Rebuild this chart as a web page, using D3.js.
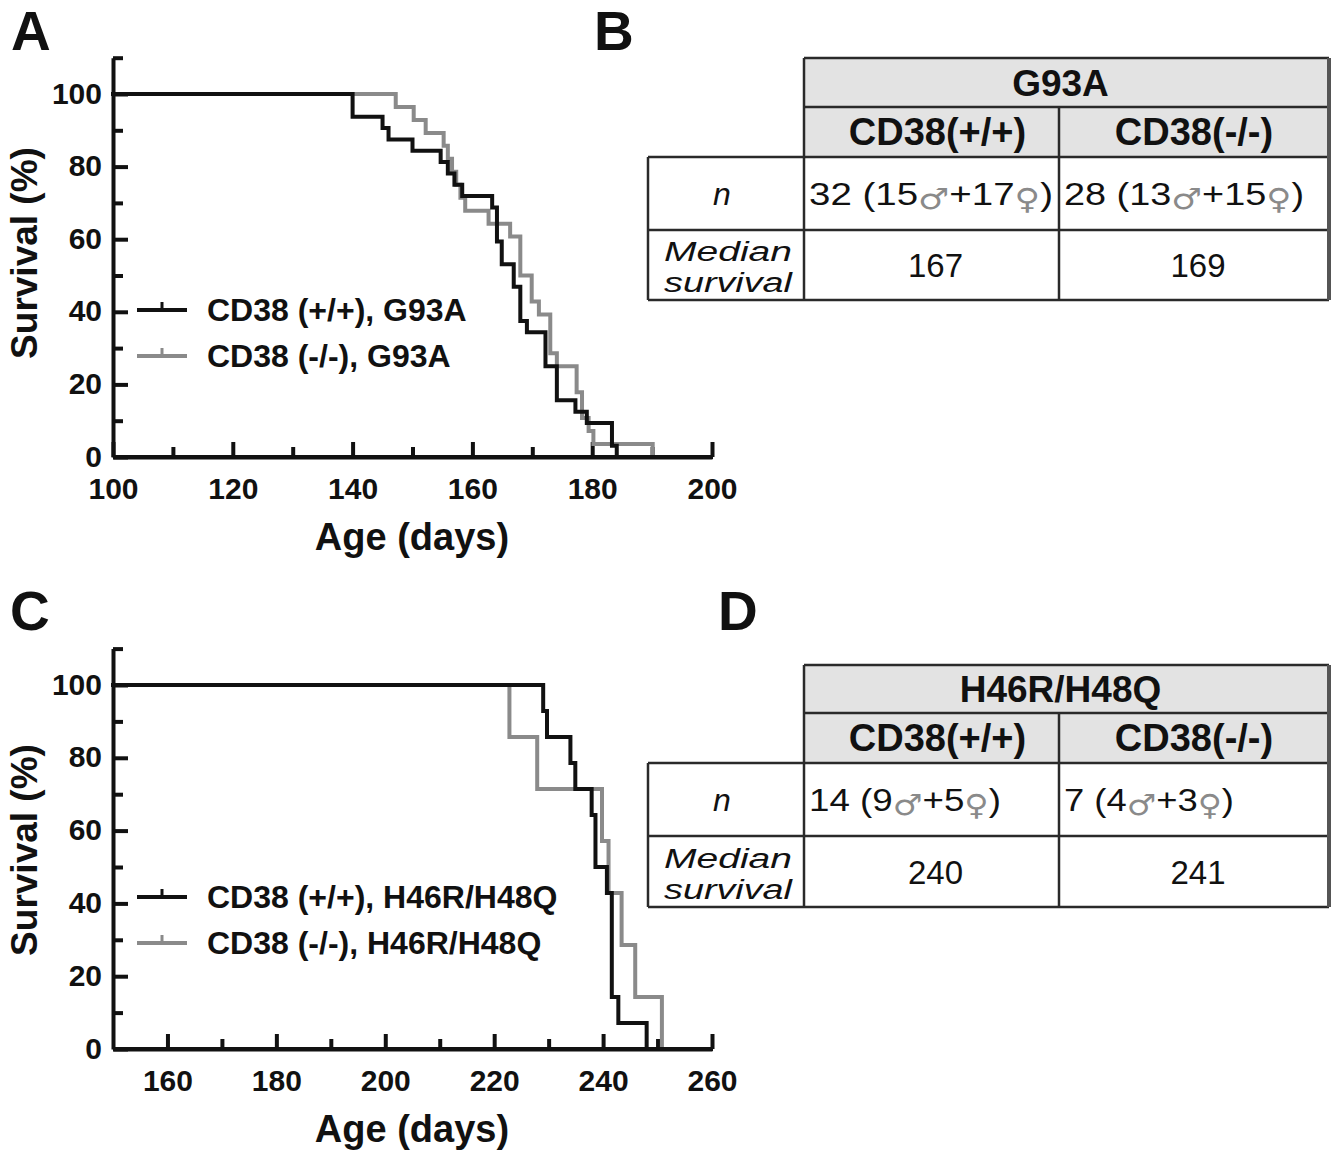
<!DOCTYPE html>
<html>
<head>
<meta charset="utf-8">
<script src="https://cdn.jsdelivr.net/npm/d3@7/dist/d3.min.js"></script>
<style>
  html, body { margin: 0; padding: 0; background: #fff; }
  svg text { font-family: "Liberation Sans", Arial, Helvetica, sans-serif; }
</style>
</head>
<body>
<svg id="fig" width="1334" height="1155"></svg>
<script>
// ---------------- DATA ----------------
// Panel A: G93A Kaplan-Meier steps (day of drop, survival % after drop)
const aDaysWT  = [100, 140, 145, 146, 150, 154.7, 155.9, 157.0, 158.3, 163.3, 164.1, 164.9, 166.9, 168.0, 169.1, 172.2, 174.1, 177.2, 179.1, 183.3, 184.1];
const aSurvWT  = [100, 93.75, 90.63, 87.5, 84.38, 81.25, 78.13, 75.0, 71.88, 68.75, 59.38, 53.13, 46.88, 37.5, 34.38, 25.0, 15.63, 12.5, 9.38, 3.13, 0];
const aDaysKO  = [100, 147.2, 150.2, 152.2, 155.2, 155.9, 156.6, 157.3, 158.0, 158.8, 162.7, 166.3, 168.0, 169.9, 171.1, 173.0, 174.1, 177.4, 178.3, 179.4, 180.2, 190.1];
const aSurvKO  = [100, 96.43, 92.86, 89.29, 85.71, 82.14, 78.57, 75.0, 71.43, 67.86, 64.29, 60.71, 50.0, 42.86, 39.29, 28.57, 25.0, 17.86, 10.71, 7.14, 3.57, 0];
// Panel C: H46R/H48Q
const cDaysWT  = [150, 229.0, 229.7, 234.0, 234.9, 237.9, 238.6, 240.7, 241.6, 242.8, 248.0];
const cSurvWT  = [100, 92.86, 85.71, 78.57, 71.43, 64.29, 50.0, 42.86, 14.29, 7.14, 0];
const cDaysKO  = [150, 222.8, 227.9, 239.8, 241.0, 243.4, 245.9, 250.8];
const cSurvKO  = [100, 85.71, 71.43, 57.14, 42.86, 28.57, 14.29, 0];

const yTicks      = [0, 20, 40, 60, 80, 100];
const yMinorTicks = [10, 30, 50, 70, 90, 110];
const aXTicks      = [100, 120, 140, 160, 180, 200];
const aXMinorTicks = [110, 130, 150, 170, 190];
const cXTicks      = [160, 180, 200, 220, 240, 260];
const cXMinorTicks = [170, 190, 210, 230, 250];

const legendA = ["CD38 (+/+), G93A", "CD38 (-/-), G93A"];
const legendC = ["CD38 (+/+), H46R/H48Q", "CD38 (-/-), H46R/H48Q"];
const yTitle = "Survival (%)";
const xTitle = "Age (days)";

const genotypes   = ["CD38(+/+)", "CD38(-/-)"];
const tableBTitle = "G93A";
const tableBTotal = [32, 28];
const tableBMale  = [15, 13];
const tableBFem   = [17, 15];
const tableBMed   = [167, 169];
const tableDTitle = "H46R/H48Q";
const tableDTotal = [14, 7];
const tableDMale  = [9, 4];
const tableDFem   = [5, 3];
const tableDMed   = [240, 241];

// ---------------- DRAW ----------------
const svg = d3.select("#fig");
const BLACK = "#111", GRAY = "#8a8a8a";

function panelLetter(t, x, y) {
  svg.append("text").attr("x", x).attr("y", y).text(t)
    .attr("font-size", 55).attr("font-weight", "bold").attr("fill", BLACK);
}
panelLetter("A", 11, 50);
panelLetter("B", 594, 50);
panelLetter("C", 10, 630);
panelLetter("D", 718, 630);

function kmPanel(opt) {
  const g = svg.append("g");
  const x = d3.scaleLinear().domain(opt.xDomain).range([113, 712]);
  const y = d3.scaleLinear().domain([0, 110]).range([opt.y0, opt.y0 - 110 * opt.pxPerPct]);

  // minor ticks
  g.append("g").attr("transform", `translate(0,${opt.y0})`)
    .call(d3.axisBottom(x).tickValues(opt.xMinor).tickSizeInner(-10).tickSizeOuter(0).tickFormat(""))
    .call(s => s.select(".domain").remove());
  g.append("g").attr("transform", `translate(113,0)`)
    .call(d3.axisLeft(y).tickValues(yMinorTicks).tickSizeInner(-10).tickSizeOuter(0).tickFormat(""))
    .call(s => s.select(".domain").remove());
  // major
  const xa = g.append("g").attr("transform", `translate(0,${opt.y0})`)
    .call(d3.axisBottom(x).tickValues(opt.xTicks).tickSizeInner(-15).tickSizeOuter(0).tickPadding(40).tickFormat(d3.format("d")));
  const ya = g.append("g").attr("transform", `translate(113,0)`)
    .call(d3.axisLeft(y).tickValues(yTicks).tickSizeInner(-15).tickSizeOuter(0).tickPadding(11).tickFormat(d3.format("d")));
  g.selectAll(".tick line").attr("stroke", BLACK).attr("stroke-width", 4);
  g.selectAll(".domain").attr("stroke", BLACK).attr("stroke-width", 4);
  g.selectAll(".tick text").attr("font-size", 30).attr("font-weight", "bold").attr("fill", BLACK)
    .attr("font-family", '"Liberation Sans", Arial, sans-serif');
  xa.selectAll(".tick text").attr("dy", 0).attr("y", 42);
  ya.selectAll(".tick text").attr("dy", "0.3em");

  const line = d3.line().x(d => x(d[0])).y(d => y(d[1])).curve(d3.curveStepAfter);
  const series = [
    { days: opt.koDays, surv: opt.koSurv, color: GRAY },
    { days: opt.wtDays, surv: opt.wtSurv, color: BLACK }
  ];
  series.forEach(s => {
    const pts = s.days.map((d, i) => [d, s.surv[i]]);
    g.append("path").attr("d", line(pts)).attr("fill", "none")
      .attr("stroke", s.color).attr("stroke-width", 4).attr("stroke-linejoin", "miter").attr("stroke-linecap", "square");
  });
  // redraw axis line over curve ends
  g.append("line").attr("x1", 113).attr("x2", 713).attr("y1", opt.y0).attr("y2", opt.y0)
    .attr("stroke", BLACK).attr("stroke-width", 4);

  // legend
  opt.legend.forEach((t, i) => {
    const ly = opt.legY + i * 46;
    const col = i === 0 ? BLACK : GRAY;
    g.append("line").attr("x1", 137).attr("x2", 187).attr("y1", ly).attr("y2", ly)
      .attr("stroke", col).attr("stroke-width", 4);
    g.append("line").attr("x1", 162).attr("x2", 162).attr("y1", ly - 8).attr("y2", ly)
      .attr("stroke", col).attr("stroke-width", 3);
    g.append("text").attr("x", 207).attr("y", ly + 11).text(t)
      .attr("font-size", 32).attr("font-weight", "bold").attr("fill", BLACK);
  });

  // titles
  g.append("text").attr("transform", `translate(37,${opt.yTitleY}) rotate(-90)`)
    .attr("text-anchor", "middle").text(yTitle)
    .attr("font-size", 37).attr("font-weight", "bold").attr("fill", BLACK);
  g.append("text").attr("x", 412).attr("y", opt.xTitleY).attr("text-anchor", "middle").text(xTitle)
    .attr("font-size", 38).attr("font-weight", "bold").attr("fill", BLACK);
}

kmPanel({ xDomain: [100, 200], y0: 457, pxPerPct: 3.63, xTicks: aXTicks, xMinor: aXMinorTicks,
  wtDays: aDaysWT, wtSurv: aSurvWT, koDays: aDaysKO, koSurv: aSurvKO,
  legend: legendA, legY: 310, yTitleY: 253, xTitleY: 550 });
kmPanel({ xDomain: [150, 260], y0: 1049, pxPerPct: 3.64, xTicks: cXTicks, xMinor: cXMinorTicks,
  wtDays: cDaysWT, wtSurv: cSurvWT, koDays: cDaysKO, koSurv: cSurvKO,
  legend: legendC, legY: 897, yTitleY: 850, xTitleY: 1142 });

function table(opt) {
  const g = svg.append("g");
  const xs = [648, 804, 1059, 1329];
  const ys = opt.rows; // 5 y positions
  const STROKE = "#2a2a2a";
  // header fill
  g.append("rect").attr("x", xs[1]).attr("y", ys[0]).attr("width", xs[3] - xs[1]).attr("height", ys[2] - ys[0])
    .attr("fill", "#e3e3e3");
  const hl = (x1, x2, y) => g.append("line").attr("x1", x1).attr("x2", x2).attr("y1", y).attr("y2", y)
    .attr("stroke", STROKE).attr("stroke-width", 2.5);
  const vl = (x, y1, y2) => g.append("line").attr("x1", x).attr("x2", x).attr("y1", y1).attr("y2", y2)
    .attr("stroke", STROKE).attr("stroke-width", 2.5);
  hl(xs[1], xs[3], ys[0]);
  hl(xs[1], xs[3], ys[1]);
  hl(xs[0], xs[3], ys[2]);
  hl(xs[0], xs[3], ys[3]);
  hl(xs[0], xs[3], ys[4]);
  vl(xs[0], ys[2], ys[4]);
  vl(xs[1], ys[0], ys[4]);
  vl(xs[2], ys[1], ys[4]);
  g.append("line").attr("x1", xs[3]).attr("x2", xs[3]).attr("y1", ys[0]).attr("y2", ys[4])
    .attr("stroke", "#555").attr("stroke-width", 4);

  const cx = [(xs[1] + xs[2]) / 2, (xs[2] + xs[3]) / 2];
  g.append("text").attr("x", (xs[1] + xs[3]) / 2 - 6).attr("y", (ys[0] + ys[1]) / 2 + 13)
    .attr("text-anchor", "middle").text(opt.title)
    .attr("font-size", 37).attr("font-weight", "bold").attr("fill", BLACK);
  genotypes.forEach((t, i) => {
    g.append("text").attr("x", cx[i] + (i === 0 ? 6 : 0)).attr("y", (ys[1] + ys[2]) / 2 + 13)
      .attr("text-anchor", "middle").text(t)
      .attr("font-size", 38).attr("font-weight", "bold").attr("fill", BLACK);
  });
  // n row
  const nY = (ys[2] + ys[3]) / 2 + 11;
  g.append("text").attr("x", (xs[0] + xs[1]) / 2 - 4).attr("y", nY).attr("text-anchor", "middle")
    .text("n").attr("font-size", 32).attr("font-style", "italic").attr("fill", BLACK);
  [0, 1].forEach(i => {
    const t = g.append("text").attr("x", xs[i + 1] + 5).attr("y", nY)
      .attr("font-size", 32).attr("fill", BLACK)
      .attr("textLength", opt.nLen[i]).attr("lengthAdjust", "spacingAndGlyphs");
    t.append("tspan").text(`${opt.total[i]} (${opt.male[i]}`);
    t.append("tspan").text("\u2642").attr("fill", "#8a8a8a").attr("font-size", 29).attr("dy", 4)
      .attr("font-family", '"DejaVu Sans", sans-serif');
    t.append("tspan").text(`+${opt.fem[i]}`).attr("dy", -4);
    t.append("tspan").text("\u2640").attr("fill", "#8a8a8a").attr("font-size", 29).attr("dy", 4)
      .attr("font-family", '"DejaVu Sans", sans-serif');
    t.append("tspan").text(")").attr("dy", -4);
  });
  // median row
  const mMid = (ys[3] + ys[4]) / 2;
  const mx = (xs[0] + xs[1]) / 2 + 2;
  g.append("text").attr("x", mx).attr("y", mMid - 4).attr("text-anchor", "middle")
    .attr("font-size", 27).attr("font-style", "italic").attr("fill", BLACK)
    .attr("textLength", 128).attr("lengthAdjust", "spacingAndGlyphs").text("Median");
  g.append("text").attr("x", mx).attr("y", mMid + 27).attr("text-anchor", "middle")
    .attr("font-size", 27).attr("font-style", "italic").attr("fill", BLACK)
    .attr("textLength", 128).attr("lengthAdjust", "spacingAndGlyphs").text("survival");
  [0, 1].forEach(i => {
    g.append("text").attr("x", cx[i] + 4).attr("y", mMid + 12).attr("text-anchor", "middle")
      .text(opt.med[i]).attr("font-size", 33).attr("fill", BLACK);
  });
}

table({ rows: [58, 107, 157, 230, 300], title: tableBTitle, total: tableBTotal, male: tableBMale, fem: tableBFem, med: tableBMed, nLen: [244, 240] });
table({ rows: [665, 713, 763, 836, 907], title: tableDTitle, total: tableDTotal, male: tableDMale, fem: tableDFem, med: tableDMed, nLen: [192, 170] });
</script>
</body>
</html>
